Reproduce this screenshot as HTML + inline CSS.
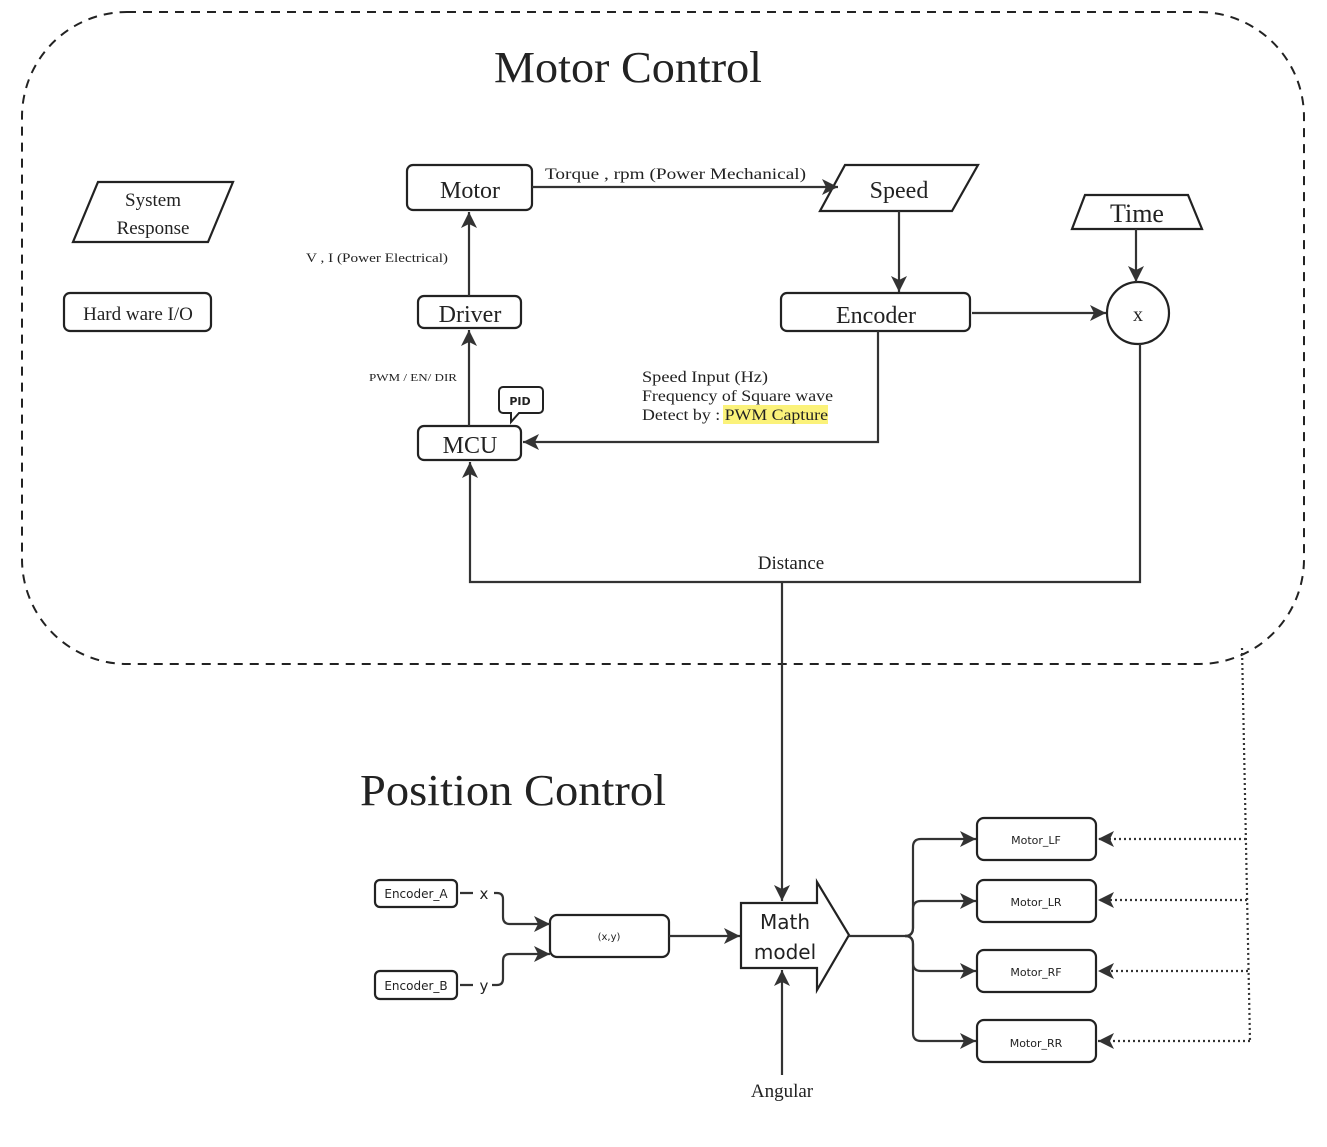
<!DOCTYPE html>
<html><head><style>
body{margin:0;background:#fff}
svg text{font-family:"Liberation Serif",serif;fill:#222}
.s{font-family:"DejaVu Sans","Liberation Sans",sans-serif !important}
</style></head><body>
<svg width="1327" height="1142" viewBox="0 0 1327 1142" xmlns="http://www.w3.org/2000/svg">
<defs>
<marker id="b" markerWidth="20" markerHeight="20" refX="18" refY="10" orient="auto" markerUnits="userSpaceOnUse"><path d="M2,2 L18,10 L2,18 L6,10 z" fill="#333"/></marker>
</defs>
<g fill="none" stroke="#222">
<rect x="22" y="12" width="1282" height="652" rx="105" stroke-width="2" stroke-dasharray="9,7"/>
<g stroke-width="2.2">
<rect x="407" y="165" width="125" height="45" rx="6"/>
<polygon points="845,165 978,165 952,211 820,211"/>
<polygon points="1085,195 1188,195 1202,229 1072,229"/>
<polygon points="98,182 233,182 208,242 73,242"/>
<rect x="64" y="293" width="147" height="38" rx="6"/>
<rect x="418" y="296" width="103" height="32" rx="6"/>
<rect x="781" y="293" width="189" height="38" rx="6"/>
<circle cx="1138" cy="313" r="31"/>
<rect x="418" y="426" width="103" height="34" rx="6"/>
<path d="M503,387 h36 a4,4 0 0 1 4,4 v18 a4,4 0 0 1 -4,4 h-20 l-8,9 l0,-9 h-8 a4,4 0 0 1 -4,-4 v-18 a4,4 0 0 1 4,-4 z" stroke-width="2" fill="#fff"/>
</g>
<g stroke="#333" stroke-width="2.2">
<path d="M469,296 V212" marker-end="url(#b)"/>
<path d="M469,426 V330" marker-end="url(#b)"/>
<path d="M532,187 H838" marker-end="url(#b)"/>
<path d="M899,211 V292" marker-end="url(#b)"/>
<path d="M1136,229 V282" marker-end="url(#b)"/>
<path d="M972,313 H1106" marker-end="url(#b)"/>
<path d="M878,331 V442 H523" marker-end="url(#b)"/>
<path d="M1140,344 V582 H470 V462" marker-end="url(#b)"/>
<path d="M782,582 V901" marker-end="url(#b)"/>
<path d="M782,1075 V970" marker-end="url(#b)"/>
</g>
<g stroke-width="2.2">
<polygon points="741,903 817,903 817,882 849,935 817,990 817,968 741,968"/>
<rect x="375" y="880" width="82" height="27" rx="5"/>
<rect x="375" y="971" width="82" height="28" rx="5"/>
<rect x="550" y="915" width="119" height="42" rx="7"/>
<rect x="977" y="818" width="119" height="42" rx="7"/>
<rect x="977" y="880" width="119" height="42" rx="7"/>
<rect x="977" y="950" width="119" height="42" rx="7"/>
<rect x="977" y="1020" width="119" height="42" rx="7"/>
</g>
<g stroke="#333" stroke-width="2.2">
<path d="M460,893 H473 M494,893 H497 q6,0 6,6 v18 q0,7 7,7 h40" marker-end="url(#b)"/>
<path d="M460,985 H473 M492,985 H497 q6,0 6,-6 v-18 q0,-7 7,-7 h40" marker-end="url(#b)"/>
<path d="M669,936 H740" marker-end="url(#b)"/>
<path d="M849,936 H905 q8,0 8,-8 V847 q0,-8 8,-8 H976" marker-end="url(#b)"/>
<path d="M905,936 q8,0 8,-8 V909 q0,-8 8,-8 H976" marker-end="url(#b)"/>
<path d="M905,936 q8,0 8,8 V963 q0,8 8,8 H976" marker-end="url(#b)"/>
<path d="M905,936 q8,0 8,8 V1033 q0,8 8,8 H976" marker-end="url(#b)"/>
</g>
<g stroke="#333" stroke-width="2.2" stroke-dasharray="2,3">
<path d="M1242,648 L1250,1041"/>
<path d="M1246,839 H1098" marker-end="url(#b)"/>
<path d="M1247,900 H1098" marker-end="url(#b)"/>
<path d="M1248,971 H1098" marker-end="url(#b)"/>
<path d="M1250,1041 H1098" marker-end="url(#b)"/>
</g>
</g>
<text x="494" y="82" font-size="44" textLength="268" lengthAdjust="spacingAndGlyphs">Motor Control</text>
<text x="360" y="805" font-size="44" textLength="306" lengthAdjust="spacingAndGlyphs">Position Control</text>
<text x="470" y="198" font-size="24" text-anchor="middle">Motor</text>
<text x="899" y="198" font-size="24" text-anchor="middle">Speed</text>
<text x="1137" y="222" font-size="26" text-anchor="middle">Time</text>
<text x="153" y="206" font-size="19" text-anchor="middle">System</text>
<text x="153" y="234" font-size="19" text-anchor="middle">Response</text>
<text x="138" y="320" font-size="19" text-anchor="middle">Hard ware I/O</text>
<text x="470" y="322" font-size="24" text-anchor="middle">Driver</text>
<text x="876" y="323" font-size="24" text-anchor="middle">Encoder</text>
<text x="1138" y="321" font-size="20" text-anchor="middle">x</text>
<text x="470" y="453" font-size="24" text-anchor="middle">MCU</text>
<text x="520" y="405" font-size="11" font-weight="bold" text-anchor="middle" class="s">PID</text>
<text x="545" y="179" font-size="16" textLength="261" lengthAdjust="spacingAndGlyphs">Torque , rpm (Power Mechanical)</text>
<text x="306" y="262" font-size="13" textLength="142" lengthAdjust="spacingAndGlyphs">V , I (Power Electrical)</text>
<text x="369" y="381" font-size="11" textLength="88" lengthAdjust="spacingAndGlyphs">PWM / EN/ DIR</text>
<rect x="723" y="405" width="105" height="19" fill="#fbf27a"/>
<text x="642" y="382" font-size="16" textLength="126" lengthAdjust="spacingAndGlyphs">Speed Input (Hz)</text>
<text x="642" y="401" font-size="16" textLength="191" lengthAdjust="spacingAndGlyphs">Frequency of Square wave</text>
<text x="642" y="420" font-size="16" textLength="186" lengthAdjust="spacingAndGlyphs">Detect by : PWM Capture</text>
<text x="791" y="569" font-size="19" text-anchor="middle">Distance</text>
<text x="782" y="1097" font-size="19" text-anchor="middle">Angular</text>
<text x="416" y="898" font-size="12" text-anchor="middle" class="s">Encoder_A</text>
<text x="416" y="990" font-size="12" text-anchor="middle" class="s">Encoder_B</text>
<text x="484" y="899" font-size="15" text-anchor="middle" class="s">x</text>
<text x="484" y="991" font-size="15" text-anchor="middle" class="s">y</text>
<text x="609" y="940" font-size="10" text-anchor="middle" class="s">(x,y)</text>
<text x="785" y="929" font-size="20" text-anchor="middle" class="s">Math</text>
<text x="785" y="959" font-size="20" text-anchor="middle" class="s">model</text>
<text x="1036" y="844" font-size="11" text-anchor="middle" class="s">Motor_LF</text>
<text x="1036" y="906" font-size="11" text-anchor="middle" class="s">Motor_LR</text>
<text x="1036" y="976" font-size="11" text-anchor="middle" class="s">Motor_RF</text>
<text x="1036" y="1047" font-size="11" text-anchor="middle" class="s">Motor_RR</text>
</svg>
</body></html>
